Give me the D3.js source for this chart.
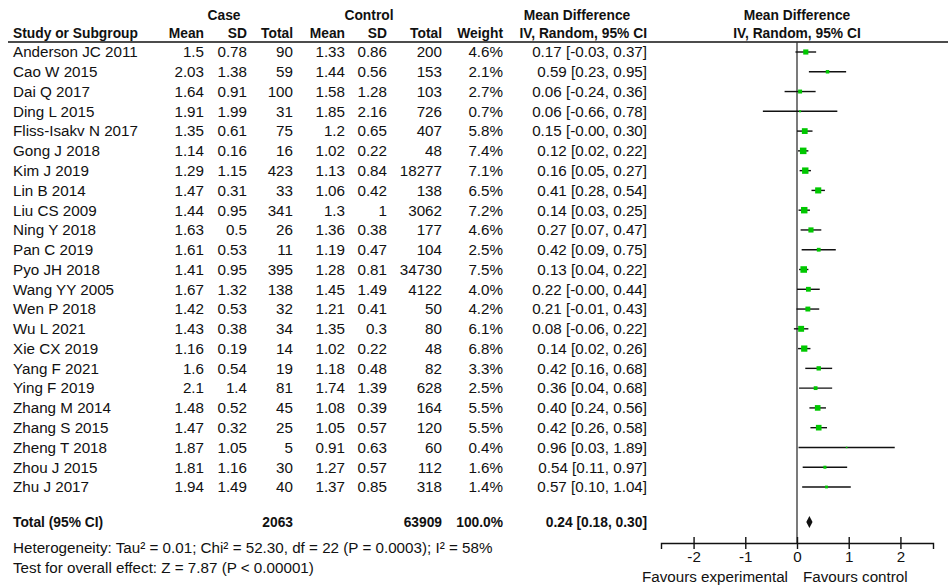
<!DOCTYPE html>
<html>
<head>
<meta charset="utf-8">
<script src="https://cdn.jsdelivr.net/npm/d3@7"></script>
<style>
  body { margin: 0; background: #fff; }
  svg text { font-family: "Liberation Sans", Arial, sans-serif; font-size: 15.2px; fill: #111; }
  svg text.b { font-weight: bold; font-size: 13.8px; }
</style>
</head>
<body>
<svg id="chart" width="948" height="587"></svg>
<script>
// study rows
let studies = ["Anderson JC 2011","Cao W 2015","Dai Q 2017","Ding L 2015","Fliss-Isakv N 2017","Gong J 2018","Kim J 2019","Lin B 2014","Liu CS 2009","Ning Y 2018","Pan C 2019","Pyo JH 2018","Wang YY 2005","Wen P 2018","Wu L 2021","Xie CX 2019","Yang F 2021","Ying F 2019","Zhang M 2014","Zhang S 2015","Zheng T 2018","Zhou J 2015","Zhu J 2017"];
let caseMean = [1.5,2.03,1.64,1.91,1.35,1.14,1.29,1.47,1.44,1.63,1.61,1.41,1.67,1.42,1.43,1.16,1.6,2.1,1.48,1.47,1.87,1.81,1.94];
let caseSD   = [0.78,1.38,0.91,1.99,0.61,0.16,1.15,0.31,0.95,0.5,0.53,0.95,1.32,0.53,0.38,0.19,0.54,1.4,0.52,0.32,1.05,1.16,1.49];
let caseN    = [90,59,100,31,75,16,423,33,341,26,11,395,138,32,34,14,19,81,45,25,5,30,40];
let ctrlMean = [1.33,1.44,1.58,1.85,1.2,1.02,1.13,1.06,1.3,1.36,1.19,1.28,1.45,1.21,1.35,1.02,1.18,1.74,1.08,1.05,0.91,1.27,1.37];
let ctrlSD   = [0.86,0.56,1.28,2.16,0.65,0.22,0.84,0.42,1,0.38,0.47,0.81,1.49,0.41,0.3,0.22,0.48,1.39,0.39,0.57,0.63,0.57,0.85];
let ctrlN    = [200,153,103,726,407,48,18277,138,3062,177,104,34730,4122,50,80,48,82,628,164,120,60,112,318];
let weight   = [4.6,2.1,2.7,0.7,5.8,7.4,7.1,6.5,7.2,4.6,2.5,7.5,4.0,4.2,6.1,6.8,3.3,2.5,5.5,5.5,0.4,1.6,1.4];
let md       = [0.17,0.59,0.06,0.06,0.15,0.12,0.16,0.41,0.14,0.27,0.42,0.13,0.22,0.21,0.08,0.14,0.42,0.36,0.40,0.42,0.96,0.54,0.57];
let lo       = [-0.03,0.23,-0.24,-0.66,-0,0.02,0.05,0.28,0.03,0.07,0.09,0.04,-0,-0.01,-0.06,0.02,0.16,0.04,0.24,0.26,0.03,0.11,0.10];
let hi       = [0.37,0.95,0.36,0.78,0.30,0.22,0.27,0.54,0.25,0.47,0.75,0.22,0.44,0.43,0.22,0.26,0.68,0.68,0.56,0.58,1.89,0.97,1.04];

// pooled result
let total = {caseN: 2063, ctrlN: 63909, weight: "100.0%", md: 0.24, lo: 0.18, hi: 0.30};
let hetText = "Heterogeneity: Tau\u00b2 = 0.01; Chi\u00b2 = 52.30, df = 22 (P = 0.0003); I\u00b2 = 58%";
let testText = "Test for overall effect: Z = 7.87 (P < 0.00001)";
let axisTicks = [-2, -1, 0, 1, 2];

const svg = d3.select("#chart");

const f2 = v => (Object.is(v, -0) ? "-" : "") + v.toFixed(2);
const ciText = (m, l, h) => f2(m) + " [" + f2(l) + ", " + f2(h) + "]";

let y = d3.scalePoint().domain(studies).range([52, 487]);
let x = d3.scaleLinear().domain([-2.63, 2.63]).range([661, 933]);

// column right edges
let cols = [
  {end: 204, vals: caseMean, head: "Mean"},
  {end: 247, vals: caseSD, head: "SD"},
  {end: 293, vals: caseN, head: "Total"},
  {end: 345, vals: ctrlMean, head: "Mean"},
  {end: 387, vals: ctrlSD, head: "SD"},
  {end: 442, vals: ctrlN, head: "Total"},
  {end: 503, vals: weight.map(w => w.toFixed(1) + "%"), head: "Weight"},
  {end: 647, vals: studies.map((s, i) => ciText(md[i], lo[i], hi[i])), head: "IV, Random, 95% CI"}
];

// headers
svg.append("text").attr("class", "b").attr("x", 224).attr("y", 20).attr("text-anchor", "middle").text("Case");
svg.append("text").attr("class", "b").attr("x", 369).attr("y", 20).attr("text-anchor", "middle").text("Control");
svg.append("text").attr("class", "b").attr("x", 577).attr("y", 20).attr("text-anchor", "middle").text("Mean Difference");
svg.append("text").attr("class", "b").attr("x", x(0)).attr("y", 20).attr("text-anchor", "middle").text("Mean Difference");
svg.append("text").attr("class", "b").attr("x", 13).attr("y", 38).text("Study or Subgroup");
cols.forEach(c => {
  svg.append("text").attr("class", "b").attr("x", c.end).attr("y", 38).attr("text-anchor", "end").text(c.head);
});
svg.append("text").attr("class", "b").attr("x", x(0)).attr("y", 38).attr("text-anchor", "middle").text("IV, Random, 95% CI");
svg.append("line").attr("x1", 8).attr("x2", 948).attr("y1", 42).attr("y2", 42)
  .attr("stroke", "#111").attr("stroke-width", 1.4);

// study rows text
svg.append("g").selectAll("text").data(studies).join("text")
  .attr("x", 13).attr("y", d => y(d)).attr("dy", "0.35em").text(d => d);
cols.forEach(c => {
  svg.append("g").selectAll("text").data(studies).join("text")
    .attr("x", c.end).attr("y", d => y(d)).attr("dy", "0.35em").attr("text-anchor", "end")
    .text((d, i) => c.vals[i]);
});

// total rows
const yT = 522;
svg.append("text").attr("class", "b").attr("x", 13).attr("y", yT).attr("dy", "0.35em").text("Total (95% CI)");
svg.append("text").attr("class", "b").attr("x", 293).attr("y", yT).attr("dy", "0.35em").attr("text-anchor", "end").text(total.caseN);
svg.append("text").attr("class", "b").attr("x", 442).attr("y", yT).attr("dy", "0.35em").attr("text-anchor", "end").text(total.ctrlN);
svg.append("text").attr("class", "b").attr("x", 503).attr("y", yT).attr("dy", "0.35em").attr("text-anchor", "end").text(total.weight);
svg.append("text").attr("class", "b").attr("x", 647).attr("y", yT).attr("dy", "0.35em").attr("text-anchor", "end").text(ciText(total.md, total.lo, total.hi));
svg.append("text").attr("x", 13).attr("y", 548).attr("dy", "0.35em").text(hetText);
svg.append("text").attr("x", 13).attr("y", 568).attr("dy", "0.35em").text(testText);

// zero line
svg.append("line").attr("x1", x(0)).attr("x2", x(0)).attr("y1", 42).attr("y2", 543)
  .attr("stroke", "#333").attr("stroke-width", 1.3);

// CI lines + squares
let plot = svg.append("g");
plot.selectAll("line.ci").data(studies).join("line").attr("class", "ci")
  .attr("x1", (d, i) => x(lo[i])).attr("x2", (d, i) => x(hi[i]))
  .attr("y1", d => y(d)).attr("y2", d => y(d))
  .attr("stroke", "#111").attr("stroke-width", 1.4);
const side = w => 2.4 * Math.sqrt(w);
plot.selectAll("rect").data(studies).join("rect")
  .attr("x", (d, i) => x(md[i]) - side(weight[i]) / 2)
  .attr("y", (d, i) => y(d) - side(weight[i]) / 2)
  .attr("width", (d, i) => side(weight[i]))
  .attr("height", (d, i) => side(weight[i]))
  .attr("fill", "#00c800");

// pooled diamond
svg.append("path")
  .attr("d", "M" + x(total.lo) + "," + yT + "L" + x(total.md) + "," + (yT - 6) +
             "L" + x(total.hi) + "," + yT + "L" + x(total.md) + "," + (yT + 6) + "Z")
  .attr("fill", "#111");

// axis
let axis = svg.append("g").attr("transform", "translate(0,543)")
  .call(d3.axisBottom(x).tickValues(axisTicks).tickSizeOuter(0).tickSize(6).tickFormat(d3.format("d")));
axis.select(".domain").attr("stroke", "#111").attr("stroke-width", 1.4);
axis.selectAll(".tick line").attr("y1", -6).attr("y2", 6).attr("stroke", "#111").attr("stroke-width", 1.4);
axis.selectAll(".tick text").attr("font-size", null).attr("font-family", null).attr("y", 8);
axis.selectAll(".tick text").text(d => d < 0 ? "-" + Math.abs(d) : d);

svg.append("text").attr("x", 788).attr("y", 582).attr("text-anchor", "end").text("Favours experimental");
svg.append("text").attr("x", 803).attr("y", 582).text("Favours control");
</script>
</body>
</html>
